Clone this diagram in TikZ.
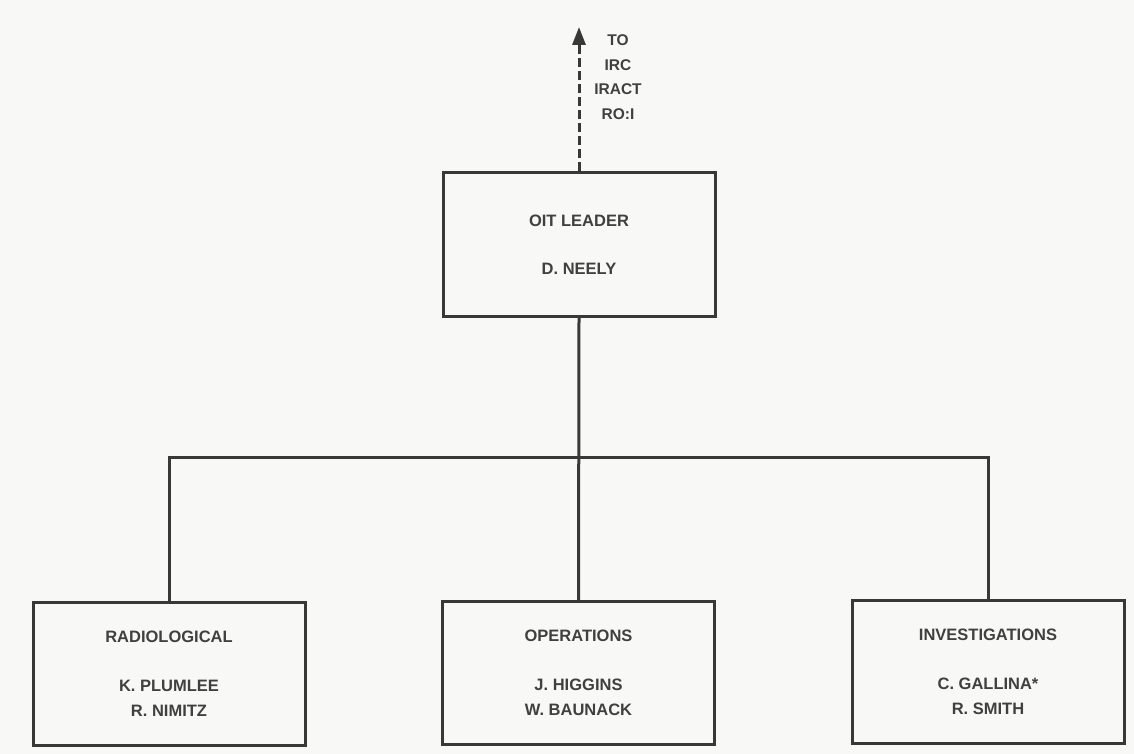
\documentclass[tikz,border=0pt]{standalone}
\usepackage{fontspec}
\setmainfont{Liberation Sans}
\usetikzlibrary{arrows.meta}
\definecolor{paper}{HTML}{F8F8F6}
\definecolor{ink}{HTML}{383838}
\definecolor{type}{HTML}{404040}
\begin{document}
\begin{tikzpicture}[x=1pt,y=-1pt,
  orgbox/.style={draw=ink, line width=3pt, fill=paper, minimum width=272pt,
    minimum height=143pt, align=center, text=type, inner sep=0pt,
    font=\bfseries\fontsize{16.5}{25}\selectfont},
  wire/.style={draw=ink, line width=3pt},
  lbl/.style={text=type, align=center, font=\bfseries\fontsize{15.5}{24.5}\selectfont}]
  % page
  \fill[paper] (0,0) rectangle (1134,754);
  \useasboundingbox (0,0) rectangle (1134,754);

  % boxes
  \node[orgbox] (oit) at (579,244.5) {OIT LEADER\\[23pt]D. NEELY};
  \node[orgbox] (rad) at (169,673.5) {RADIOLOGICAL\\[24pt]K. PLUMLEE\\R. NIMITZ};
  \node[orgbox] (ops) at (578.5,673) {OPERATIONS\\[24pt]J. HIGGINS\\W. BAUNACK};
  \node[orgbox] (inv) at (988,671.5) {INVESTIGATIONS\\[24pt]C. GALLINA*\\R. SMITH};

  % reporting line upward
  \coordinate (up) at (oit.north |- 0,27);
  \draw[wire, dash pattern=on 9pt off 4pt,
        -{Triangle[length=18pt,width=13pt]}] (oit.north) -- (up);
  \node[lbl] (irc) at (618,77) {TO\\IRC\\IRACT\\RO:I};

  % tree connectors
  \coordinate (bar) at (0,457);
  \draw[wire] (oit.south) -- (ops.north);
  \draw[wire] (rad.north) -- (rad.north |- bar) -- (inv.north |- bar) -- (inv.north);
\end{tikzpicture}
\end{document}
